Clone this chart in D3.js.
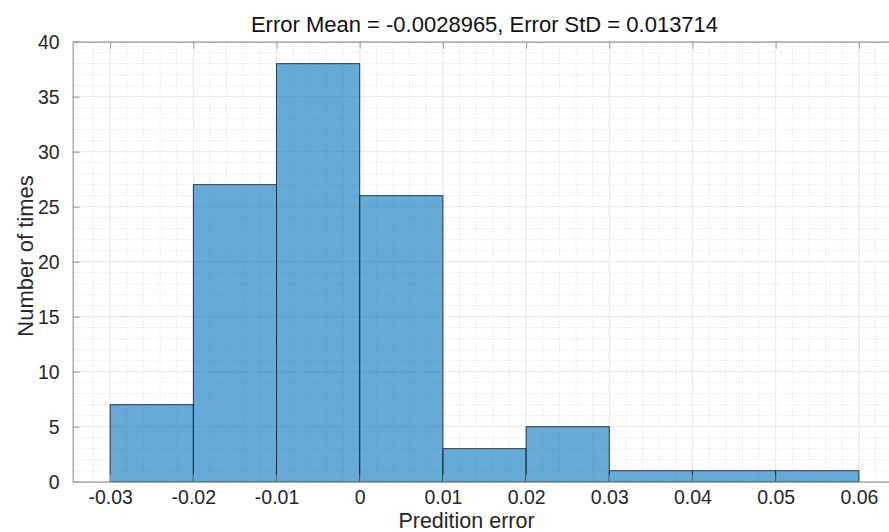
<!DOCTYPE html>
<html>
<head>
<meta charset="utf-8">
<script src="https://cdn.jsdelivr.net/npm/d3@7"></script>
<style>
  html, body { margin: 0; padding: 0; background: #fff; }
  svg { display: block; font-family: "Liberation Sans", Arial, Helvetica, sans-serif; }
</style>
</head>
<body>
<svg id="chart" width="889" height="532"></svg>
<script>
// Data
const binEdges = [-0.03, -0.02, -0.01, 0, 0.01, 0.02, 0.03, 0.04, 0.05, 0.06];
const counts = [7, 27, 38, 26, 3, 5, 1, 1, 1];
const xTicks = [-0.03, -0.02, -0.01, 0, 0.01, 0.02, 0.03, 0.04, 0.05, 0.06];
const xTickLabels = ["-0.03", "-0.02", "-0.01", "0", "0.01", "0.02", "0.03", "0.04", "0.05", "0.06"];
const yTicks = [0, 5, 10, 15, 20, 25, 30, 35, 40];
const titleText = "Error Mean = -0.0028965, Error StD = 0.013714";
const xLabelText = "Predition error";
const yLabelText = "Number of times";

const svg = d3.select("#chart");
const pLeft = 72.7, pRight = 896.3, pTop = 41.7, pBottom = 481.7;

const x = d3.scaleLinear().domain([-0.0345, 0.0645]).range([pLeft, pRight]);
const y = d3.scaleLinear().domain([0, 40]).range([pBottom, pTop]);

const textColor = "#262626";
const axisColor = "#9a9a9a";

// Grid
const grid = svg.append("g");
const xMinor = d3.range(-34, 65, 2).map(v => v / 1000).filter(v => x(v) >= pLeft && x(v) <= pRight);
const yMinor = d3.range(0, 41, 1);
grid.selectAll(".xminor").data(xMinor).enter().append("line")
  .attr("x1", d => x(d)).attr("x2", d => x(d)).attr("y1", pTop).attr("y2", pBottom)
  .attr("stroke", "#d0d0d0").attr("stroke-width", 0.8).attr("stroke-dasharray", "1,2");
grid.selectAll(".yminor").data(yMinor).enter().append("line")
  .attr("x1", pLeft).attr("x2", pRight).attr("y1", d => y(d)).attr("y2", d => y(d))
  .attr("stroke", "#d0d0d0").attr("stroke-width", 0.8).attr("stroke-dasharray", "1,2");
grid.selectAll(".xmajor").data(xTicks).enter().append("line")
  .attr("x1", d => x(d)).attr("x2", d => x(d)).attr("y1", pTop).attr("y2", pBottom)
  .attr("stroke", "#e6e6e6").attr("stroke-width", 0.8);
grid.selectAll(".ymajor").data(yTicks).enter().append("line")
  .attr("x1", pLeft).attr("x2", pRight).attr("y1", d => y(d)).attr("y2", d => y(d))
  .attr("stroke", "#e6e6e6").attr("stroke-width", 0.8);

// Bars
const bins = counts.map((c, i) => ({ x0: binEdges[i], x1: binEdges[i + 1], c }));
svg.append("g").selectAll("rect").data(bins).enter().append("rect")
  .attr("x", d => x(d.x0)).attr("width", d => x(d.x1) - x(d.x0))
  .attr("y", d => y(d.c)).attr("height", d => y(0) - y(d.c))
  .attr("fill", "#0072BD").attr("fill-opacity", 0.6)
  .attr("stroke", "#1c2a3a").attr("stroke-width", 0.9);

// Axes (box with inward ticks)
const tickLen = 7;
const xAxisB = d3.axisBottom(x).tickValues(xTicks).tickSizeInner(-tickLen).tickSizeOuter(0)
  .tickFormat((d, i) => xTickLabels[i]);
const gxb = svg.append("g").attr("transform", `translate(0,${pBottom})`).call(xAxisB);
const xAxisT = d3.axisTop(x).tickValues(xTicks).tickSizeInner(-tickLen).tickSizeOuter(0).tickFormat("");
const gxt = svg.append("g").attr("transform", `translate(0,${pTop})`).call(xAxisT);
const yAxisL = d3.axisLeft(y).tickValues(yTicks).tickSizeInner(-tickLen).tickSizeOuter(0).tickPadding(13);
const gyl = svg.append("g").attr("transform", `translate(${pLeft},0)`).call(yAxisL);
const yAxisR = d3.axisRight(y).tickValues(yTicks).tickSizeInner(-tickLen).tickSizeOuter(0).tickFormat("");
const gyr = svg.append("g").attr("transform", `translate(${pRight},0)`).call(yAxisR);

[gxb, gxt, gyl, gyr].forEach(g => {
  g.select(".domain").attr("stroke", axisColor).attr("stroke-width", 1.2);
  g.selectAll(".tick line").attr("stroke", axisColor).attr("stroke-width", 1);
  g.selectAll(".tick text").attr("fill", textColor).attr("font-size", 19.5)
    .attr("font-family", "'Liberation Sans', Arial, sans-serif");
});
gxb.selectAll(".tick text").attr("dy", null).attr("y", 22.5);
gyl.selectAll(".tick text").attr("dy", "0.35em");

// Title and labels
svg.append("text").attr("x", (pLeft + pRight) / 2).attr("y", 31.5)
  .attr("text-anchor", "middle").attr("font-size", 22).attr("fill", "#111")
  .text(titleText);
svg.append("text").attr("x", (pLeft + pRight) / 2 - 18).attr("y", 528)
  .attr("text-anchor", "middle").attr("font-size", 21.5).attr("fill", textColor)
  .text(xLabelText);
svg.append("text").attr("transform", "translate(33,256) rotate(-90)")
  .attr("text-anchor", "middle").attr("font-size", 22).attr("fill", textColor)
  .text(yLabelText);
</script>
</body>
</html>
